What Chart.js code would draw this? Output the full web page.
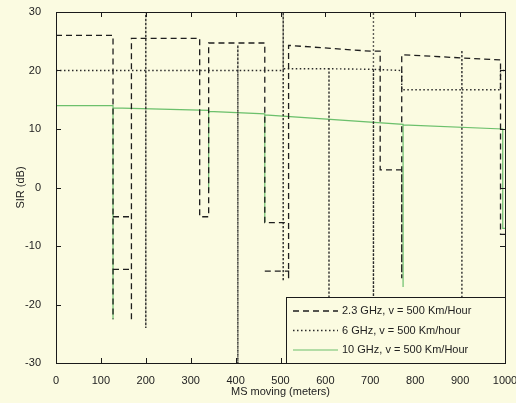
<!DOCTYPE html>
<html>
<head>
<meta charset="utf-8">
<script src="https://cdn.jsdelivr.net/npm/chart.js@4.4.1/dist/chart.umd.min.js"></script>
<style>
  html, body { margin: 0; padding: 0; background: #fbfbe1; }
  #wrap { width: 516px; height: 403px; position: relative; }
</style>
</head>
<body>
<div id="wrap"><canvas id="sirChart"></canvas></div>
<script>
// tick labels
const xTicks = [0, 100, 200, 300, 400, 500, 600, 700, 800, 900, 1000];
const yTicks = [-30, -20, -10, 0, 10, 20, 30];

// 2.3 GHz (dashed) - null breaks the line
const dist23 = [0, 127, 127, 127, 127, 168, 168, 127, 168, 168, 168, 168, 320, 320, 340, 340, 465, 465, 518, 518, 465, 518, 518, 518, 700, 722, 722, 770, 770, 770, 990, 990, 1000];
const sir23  = [26, 26, -22.5, null, -5, -5, null, -14, -14, null, -22.5, 25.5, 25.5, -5, -5, 24.7, 24.7, -6, -6, null, -14.3, -14.3, -15.5, 24.3, 23.3, 23.3, 3, 3, -15.5, 22.7, 21.8, -8, -8];

// 6 GHz (dotted)
const dist6 = [0, 200, 200, 200, 200, 405, 405, 405, 405, 506, 506, 506, 506, 608, 608, 608, 608, 707, 707, 707, 707, 770, 770, 904, 904, 904, 904, 990, 990, 1000];
const sir6  = [20, 20, 30, -24, 20, 20, 24.4, -30, 20, 20, 30, -16, 20.3, 20.3, 18, -19, 20.3, 20.2, 30, -19, 20.2, 20, 16.7, 16.7, 23.5, -19, 16.7, 16.7, 20, 20];

// 10 GHz (solid green)
const dist10 = [0, 127, 127, 127, 340, 340, 340, 465, 465, 465, 773, 773, 773, 995, 995, 1000];
const sir10  = [14, 14, -22.5, 13.6, 13.2, -0.5, 13.0, 12.6, -6, 12.4, 10.8, -17, 10.7, 10, -7, -7];

const legendLabels = ['2.3 GHz, v = 500 Km/Hour', '6 GHz, v = 500 Km/hour', '10 GHz, v = 500 Km/Hour'];

function pts(xs, ys) {
  return xs.map((x, i) => ({ x: x, y: ys[i] }));
}

const styles = [
  { color: '#1e1e1e', dash: [6, 4], width: 1.3 },
  { color: '#2a2a2a', dash: [1.5, 2.5], width: 1.4 },
  { color: '#6cc06c', dash: [], width: 1.2 }
];

const boxPlugin = {
  id: 'boxPlugin',
  beforeDraw(chart) {
    const ctx = chart.ctx;
    ctx.save();
    ctx.fillStyle = '#fbfbe1';
    ctx.fillRect(0, 0, chart.width, chart.height);
    ctx.restore();
  },
  afterDatasetsDraw(chart) {
    const { ctx, chartArea: a, scales } = chart;
    ctx.save();
    ctx.strokeStyle = '#1a1a1a';
    ctx.lineWidth = 1;
    ctx.strokeRect(a.left + 0.5, a.top + 0.5, a.right - a.left, a.bottom - a.top);
    ctx.beginPath();
    xTicks.forEach(v => {
      const px = Math.round(scales.x.getPixelForValue(v)) + 0.5;
      ctx.moveTo(px, a.bottom); ctx.lineTo(px, a.bottom - 5);
      ctx.moveTo(px, a.top); ctx.lineTo(px, a.top + 5);
    });
    yTicks.forEach(v => {
      const py = Math.round(scales.y.getPixelForValue(v)) + 0.5;
      ctx.moveTo(a.left, py); ctx.lineTo(a.left + 5, py);
      ctx.moveTo(a.right, py); ctx.lineTo(a.right - 5, py);
    });
    ctx.stroke();

    // legend, lower right inside the axes
    const lx = a.left + 230, ly = a.bottom - 66, lw = a.right - lx, lh = 66;
    ctx.fillStyle = '#fbfbe1';
    ctx.fillRect(lx, ly, lw, lh);
    ctx.strokeStyle = '#1a1a1a';
    ctx.strokeRect(lx + 0.5, ly + 0.5, lw, lh);
    ctx.font = '11px "Liberation Sans", Arial, sans-serif';
    ctx.textBaseline = 'middle';
    legendLabels.forEach((t, i) => {
      const y = ly + 14 + i * 19.5;
      const s = styles[i];
      ctx.beginPath();
      ctx.strokeStyle = s.color;
      ctx.lineWidth = s.width;
      ctx.setLineDash(s.dash);
      ctx.moveTo(lx + 7, y); ctx.lineTo(lx + 52, y);
      ctx.stroke();
      ctx.setLineDash([]);
      ctx.fillStyle = '#222';
      ctx.fillText(t, lx + 56, y);
    });
    ctx.restore();
  }
};

const tickFont = { size: 11, family: '"Liberation Sans", Arial, sans-serif' };

new Chart(document.getElementById('sirChart'), {
  type: 'line',
  data: {
    datasets: [
      { label: legendLabels[0], data: pts(dist23, sir23), borderColor: styles[0].color, borderDash: styles[0].dash, borderWidth: styles[0].width },
      { label: legendLabels[1], data: pts(dist6, sir6), borderColor: styles[1].color, borderDash: styles[1].dash, borderWidth: styles[1].width },
      { label: legendLabels[2], data: pts(dist10, sir10), borderColor: styles[2].color, borderDash: styles[2].dash, borderWidth: styles[2].width }
    ]
  },
  options: {
    responsive: true, maintainAspectRatio: false, animation: false,
    spanGaps: false,
    elements: { point: { radius: 0 }, line: { tension: 0 } },
    layout: { padding: { top: 12, right: 11, left: 0, bottom: 0 } },
    plugins: { legend: { display: false }, tooltip: { enabled: false } },
    scales: {
      x: {
        type: 'linear', min: 0, max: 1000,
        grid: { display: false }, border: { display: false },
        ticks: { stepSize: 100, padding: 3, color: '#222', font: tickFont, maxRotation: 0, callback: v => String(v) },
        title: { display: true, text: 'MS moving (meters)', color: '#222', padding: { top: 0, bottom: 4 }, font: tickFont },
        afterFit(s) { s.height = 40; s.paddingLeft = 0; s.paddingRight = 0; }
      },
      y: {
        min: -30, max: 30,
        grid: { display: false }, border: { display: false },
        ticks: { stepSize: 10, padding: 7, color: '#222', font: tickFont, callback: v => String(v) },
        title: { display: true, text: 'SIR (dB)', color: '#222', padding: { top: 14, bottom: 2 }, font: tickFont },
        afterFit(s) { s.width = 56; s.paddingTop = 0; s.paddingBottom = 0; }
      }
    }
  },
  plugins: [boxPlugin]
});
</script>
</body>
</html>
